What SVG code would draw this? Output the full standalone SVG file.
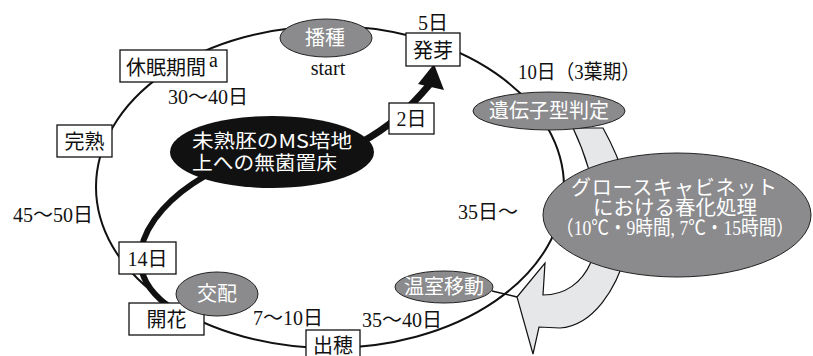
<svg xmlns="http://www.w3.org/2000/svg" width="813" height="356" viewBox="0 0 813 356">
<style>
.bx{fill:#fff;stroke:#111;stroke-width:1.3}
.gr{fill:#8b8b8e;stroke:#222;stroke-width:1}
.t{font-family:"Liberation Serif","Noto Sans CJK JP",serif;font-size:20px;fill:#111}
.tc{text-anchor:middle}
.w{fill:#fff}
.g{font-family:"Noto Sans CJK JP","Liberation Sans",sans-serif;font-size:19px;fill:#fff}
</style>
<rect width="813" height="356" fill="#fff"/>
<g id="connectors">
<ellipse cx="330" cy="187" rx="234" ry="161" fill="none" stroke="#111" stroke-width="2"/>
<path d="M603 128 C618 155,640 205,628 245 C618 290,592 326,560 328 L539 327 L533 354 L517 297 L545 263 L543 295 C565 295,582 283,591 262 C601 235,600 185,573 128 Z" fill="#e6e7e8" stroke="#111" stroke-width="1.2"/>
<line x1="492" y1="291" x2="517" y2="297" stroke="#111" stroke-width="1.5"/>
<path d="M205 176 C172 195,146 222,141 250 C137 275,150 292,168 306" fill="none" stroke="#111" stroke-width="6"/>
<path d="M360 143 C388 128,408 110,430 84" fill="none" stroke="#111" stroke-width="7"/>
<polygon points="434,64 418,84 444,90" fill="#111"/>
</g>
<g id="n-cabinet">
<ellipse class="gr" cx="677" cy="215" rx="134" ry="62"/>
<text class="t w tc" x="674" y="195" font-size="17" textLength="206" lengthAdjust="spacing">グロースキャビネット</text>
<text class="t w tc" x="675" y="215" font-size="17" textLength="164" lengthAdjust="spacingAndGlyphs">における春化処理</text>
<text class="t w tc" x="675" y="235" font-size="17" textLength="238" lengthAdjust="spacingAndGlyphs">（10℃・9時間, 7℃・15時間）</text>
</g>
<g id="n-genotype">
<ellipse class="gr" cx="549" cy="111" rx="76" ry="19"/>
<text class="t w tc" x="549" y="118" font-size="21">遺伝子型判定</text>
</g>
<g id="n-sowing">
<ellipse class="gr" cx="326" cy="38" rx="46" ry="19"/>
<text class="t w tc" x="325" y="45" font-size="21">播種</text>
<text class="t tc" x="328" y="75" font-size="19">start</text>
</g>
<g id="n-germ">
<rect class="bx" x="406" y="33" width="54" height="33"/>
<text class="t tc" x="433" y="58" font-size="21">発芽</text>
<text class="t tc" x="433" y="30">5日</text>
</g>
<text class="t" x="518" y="79" textLength="122" lengthAdjust="spacingAndGlyphs">10日（3葉期）</text>
<g id="n-2d">
<rect class="bx" x="389" y="103" width="45" height="31"/>
<text class="t tc" x="411.5" y="126">2日</text>
</g>
<g id="n-embryo">
<ellipse cx="272" cy="152" rx="102" ry="36" fill="#111"/>
<text class="g" x="192" y="148" textLength="160" lengthAdjust="spacingAndGlyphs">未熟胚のMS培地</text>
<text class="g" x="192" y="170" textLength="145" lengthAdjust="spacingAndGlyphs">上への無菌置床</text>
</g>
<g id="n-dormancy">
<rect class="bx" x="120" y="50" width="107" height="32"/>
<text class="t" x="126" y="75" font-size="21">休眠期間</text>
<text class="t" x="209" y="67" font-size="13">a</text>
</g>
<text class="t" x="168" y="104">30～40日</text>
<g id="n-mature">
<rect class="bx" x="57" y="125" width="55" height="32"/>
<text class="t tc" x="84.5" y="149" font-size="21">完熟</text>
</g>
<text class="t" x="13" y="222">45～50日</text>
<g id="n-14d">
<rect class="bx" x="119" y="242" width="57" height="32"/>
<text class="t tc" x="147.5" y="266">14日</text>
</g>
<g id="n-flower">
<rect class="bx" x="129" y="303" width="75" height="32"/>
<text class="t tc" x="166.5" y="327" font-size="21">開花</text>
</g>
<g id="n-cross">
<ellipse class="gr" cx="217" cy="294" rx="41" ry="22"/>
<text class="t w tc" x="217" y="301" font-size="20">交配</text>
</g>
<text class="t" x="253" y="325">7～10日</text>
<g id="n-heading">
<rect class="bx" x="306" y="330" width="54" height="30"/>
<text class="t tc" x="333" y="353" font-size="21">出穂</text>
</g>
<text class="t" x="362" y="327">35～40日</text>
<g id="n-greenhouse">
<ellipse class="gr" cx="444" cy="287" rx="49" ry="16"/>
<text class="t w tc" x="444" y="294" font-size="19">温室移動</text>
</g>
<text class="t" x="458" y="219">35日～</text>
</svg>
